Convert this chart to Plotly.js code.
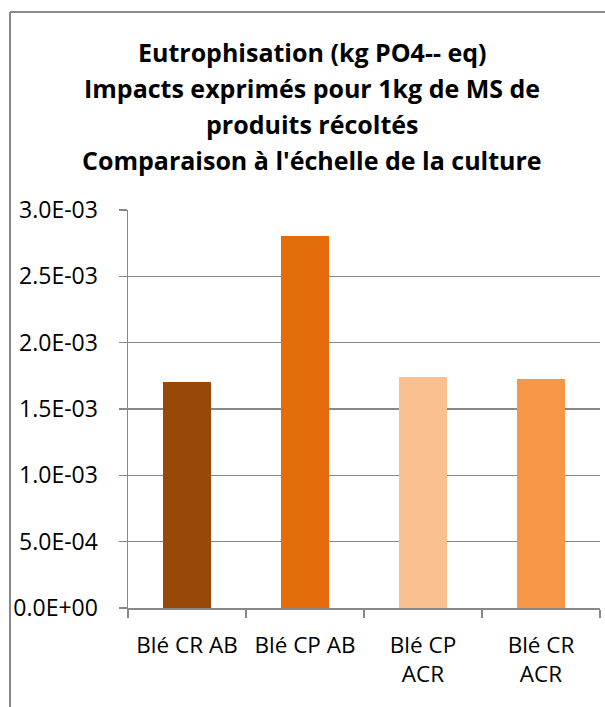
<!DOCTYPE html>
<html>
<head>
<meta charset="utf-8">
<script src="https://cdn.plot.ly/plotly-3.0.1.min.js"></script>
<style>html,body{margin:0;padding:0;background:#fff;}#chart{width:605px;height:707px;}</style>
</head>
<body>
<div id="chart"></div>
<script>
// ---- data ----
const categories = ["Blé CR AB", "Blé CP AB", "Blé CP<br>ACR", "Blé CR<br>ACR"];
const values = [1.703e-3, 2.804e-3, 1.741e-3, 1.726e-3];
const barColors = ["#984807", "#E46C0A", "#FAC090", "#F79646"];
const yTickVals = [0, 0.5e-3, 1.0e-3, 1.5e-3, 2.0e-3, 2.5e-3, 3.0e-3];
const titleLines = [
  "Eutrophisation (kg PO4-- eq)",
  "Impacts exprimés pour 1kg de MS de",
  "produits récoltés",
  "Comparaison à l'échelle de la culture"
];

function excelSci(v) {
  if (v === 0) return "0.0E+00";
  const e = Math.floor(Math.log10(Math.abs(v)) + 1e-9);
  const m = v / Math.pow(10, e);
  const sign = e < 0 ? "-" : "+";
  const ae = Math.abs(e);
  return m.toFixed(1) + "E" + sign + (ae < 10 ? "0" + ae : "" + ae);
}

// ---- layout geometry (pixels) ----
const W = 605, H = 707;
const L = 128, R = 5, T = 210, B = 99;
const pw = W - L - R, ph = H - T - B;
const px2x = x => (x - L) / pw;
const py2y = y => (H - B - y) / ph;

const gray = "#888888";
const font = "Open Sans, Noto Sans, sans-serif";

const titleY = [52, 88, 124, 160];
const annotations = titleLines.map((t, i) => ({
  text: "<b>" + t + "</b>",
  xref: "paper", yref: "paper",
  x: px2x(312), y: py2y(titleY[i]),
  xanchor: "center", yanchor: "middle",
  showarrow: false,
  font: {family: font, size: 25, color: "#000000"}
}));

const trace = {
  type: "bar",
  x: categories,
  y: values,
  marker: {color: barColors},
  hoverinfo: "x+y"
};

const layout = {
  width: W, height: H,
  margin: {l: L, r: R, t: T, b: B, pad: 0},
  paper_bgcolor: "#ffffff",
  plot_bgcolor: "#ffffff",
  showlegend: false,
  bargap: 0.593,
  font: {family: font, color: "#000000"},
  xaxis: {
    type: "category",
    showgrid: false,
    showline: true, linecolor: gray, linewidth: 1.5,
    ticks: "outside", ticklen: 8, tickcolor: gray, tickwidth: 1.5,
    tickson: "boundaries",
    tickfont: {family: font, size: 22.5, color: "#000000"},
    ticklabelstandoff: 16,
    zeroline: false
  },
  yaxis: {
    range: [0, 3.0e-3],
    tickvals: yTickVals,
    ticktext: yTickVals.map(excelSci),
    showgrid: true, gridcolor: gray, gridwidth: 1.2,
    showline: true, linecolor: gray, linewidth: 1.5,
    ticks: "outside", ticklen: 8, tickcolor: gray, tickwidth: 1.5,
    tickfont: {family: font, size: 23, color: "#000000"},
    ticklabelstandoff: 16,
    zeroline: false
  },
  annotations: annotations,
  shapes: [
    {type: "line", xref: "paper", yref: "paper",
     x0: px2x(10), x1: px2x(10), y0: py2y(12), y1: py2y(H + 5),
     line: {color: gray, width: 2}},
    {type: "line", xref: "paper", yref: "paper",
     x0: px2x(10), x1: px2x(W + 5), y0: py2y(12), y1: py2y(12),
     line: {color: gray, width: 2}}
  ]
};

Plotly.newPlot("chart", [trace], layout, {displayModeBar: false, staticPlot: true});
</script>
</body>
</html>
